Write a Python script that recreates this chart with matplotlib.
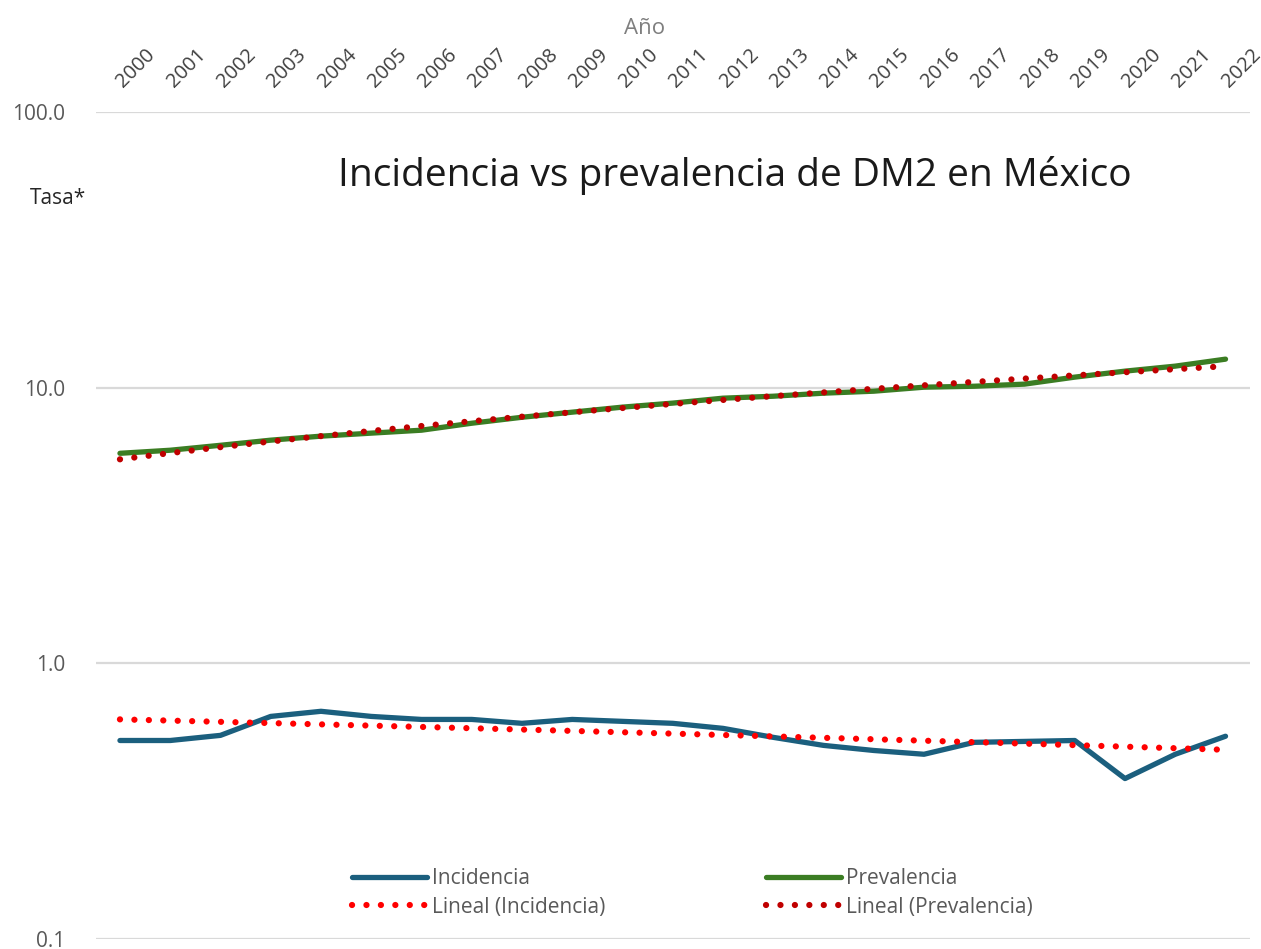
import numpy as np
import matplotlib.pyplot as plt
from matplotlib.ticker import FixedLocator, NullLocator

plt.rcParams['font.family'] = ['Open Sans', 'DejaVu Sans']

years = list(range(2000, 2023))
incidencia = [0.525, 0.525, 0.548, 0.642, 0.670, 0.642, 0.626, 0.626, 0.606, 0.626, 0.616, 0.606,
              0.581, 0.539, 0.504, 0.483, 0.468, 0.517, 0.521, 0.525, 0.382, 0.468, 0.544]
prevalencia = [5.78, 5.93, 6.18, 6.45, 6.67, 6.84, 7.01, 7.43, 7.81, 8.15, 8.50, 8.79,
               9.16, 9.31, 9.55, 9.71, 10.04, 10.12, 10.30, 10.92, 11.48, 11.97, 12.69]
yticks = [0.1, 1.0, 10.0, 100.0]

x = np.arange(len(years))
# lineas de tendencia (regresion lineal, como en Excel)
tr_inc = np.polyval(np.polyfit(x, incidencia, 1), x)
tr_prev = np.polyval(np.polyfit(x, prevalencia, 1), x)

fig = plt.figure(figsize=(12.61, 9.49), dpi=100)
ax = fig.add_axes([0.076, 0.0105, 0.915, 0.8715])

ax.plot(x, incidencia, color='#1b5f7e', linewidth=3.8, label='Incidencia', solid_capstyle='round')
ax.plot(x, tr_inc, color='#ff0000', linewidth=4.5, linestyle=(0, (0.01, 2.3)),
        dash_capstyle='round', label='Lineal (Incidencia)')
ax.plot(x, prevalencia, color='#3b7d23', linewidth=3.8, label='Prevalencia', solid_capstyle='round')
ax.plot(x, tr_prev, color='#c00000', linewidth=4.5, linestyle=(0, (0.01, 2.3)),
        dash_capstyle='round', label='Lineal (Prevalencia)')

ax.set_yscale('log')
ax.set_ylim(0.1, 100)
ax.set_xlim(-0.48, len(years) - 0.52)
ax.yaxis.set_major_locator(FixedLocator(yticks))
ax.yaxis.set_minor_locator(NullLocator())
ax.set_yticklabels([f'{v:.1f}' for v in yticks])
ax.grid(axis='y', color='#d9d9d9', linewidth=1.6)
ax.set_axisbelow(True)

ax.xaxis.tick_top()
ax.set_xticks(x)
ax.set_xticklabels([str(y) for y in years], rotation=45, ha='left', va='center',
                   rotation_mode='anchor')
ax.tick_params(axis='x', length=0, pad=20, labelsize=14.5, labelcolor='#404040')
ax.tick_params(axis='y', length=0, pad=22, labelsize=15, labelcolor='#595959')
for s in ax.spines.values():
    s.set_visible(False)

fig.text(0.511, 0.97, 'Año', ha='center', va='center', fontsize=16, color='#7f7f7f')
fig.text(0.046, 0.791, 'Tasa*', ha='center', va='center', fontsize=15, color='#262626')
fig.text(0.583, 0.815, 'Incidencia vs prevalencia de DM2 en México', ha='center', va='center',
         fontsize=28, color='#1a1a1a')

h, l = ax.get_legend_handles_labels()
ax.legend(h, l, ncol=2, loc='center', bbox_to_anchor=(0.517, 0.0555), frameon=False,
          fontsize=15, labelcolor='#595959', handlelength=3.6, handletextpad=0.25,
          columnspacing=7.7, labelspacing=0.35)

fig.savefig('out.png', dpi=100)
